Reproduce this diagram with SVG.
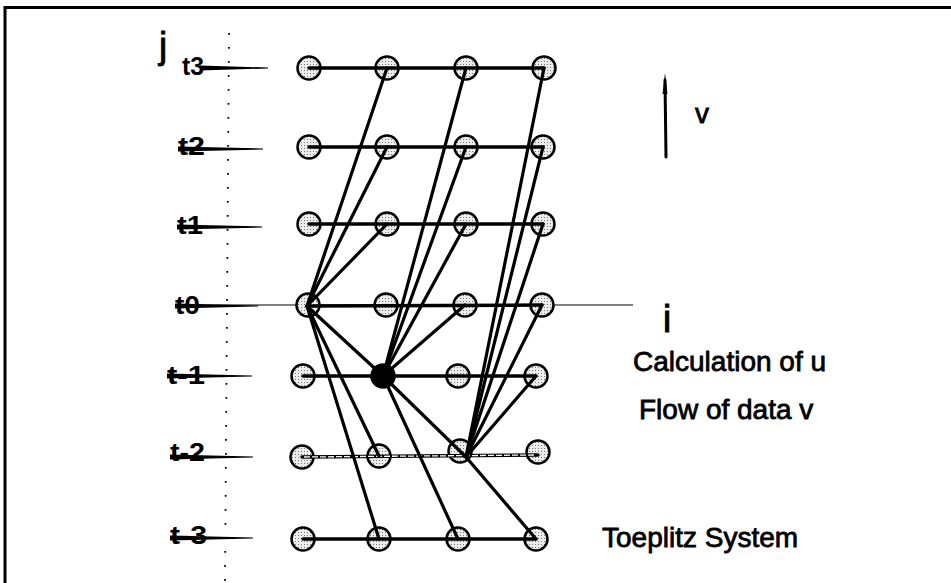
<svg xmlns="http://www.w3.org/2000/svg" width="951" height="583" viewBox="0 0 951 583">
<defs>
<pattern id="dots" width="3" height="3" patternUnits="userSpaceOnUse">
<rect width="3" height="3" fill="#ececec"/>
<rect x="1" y="1" width="1" height="1" fill="#777"/>
</pattern>
<style>
.node{fill:url(#dots);stroke:#000;stroke-width:2.5}
.hub{fill:#000;stroke:#000;stroke-width:2.5}
.edge{stroke:#000;stroke-width:3.2;fill:none;stroke-linecap:round}
.row{stroke:#000;stroke-width:3.5;fill:none;stroke-linecap:round}
.lbl{font-family:"Liberation Sans",Arial,sans-serif;font-weight:bold;font-size:25px;fill:#000}
.txt{font-family:"Liberation Sans",Arial,sans-serif;font-size:28px;fill:#000;stroke:#000;stroke-width:0.8}
.tick{fill:#000}
</style>
</defs>
<rect width="951" height="583" fill="#fff"/>
<!-- frame -->
<g id="frame">
<line x1="4" y1="7.5" x2="951" y2="7.5" stroke="#000" stroke-width="3"/>
<line x1="5" y1="6" x2="5" y2="583" stroke="#000" stroke-width="3"/>
</g>
<!-- dotted axis -->
<line x1="229" y1="33" x2="225" y2="583" stroke="#000" stroke-width="1.8" stroke-dasharray="1.8 12.2"/>
<!-- thin i axis -->
<line x1="175" y1="305" x2="633" y2="305" stroke="#000" stroke-width="1.2"/>
<!-- labels -->
<g id="labels">
<text class="txt" x="159" y="58" style="font-size:37px">j</text>
<text class="lbl" x="182" y="75" textLength="22" lengthAdjust="spacingAndGlyphs">t3</text>
<polygon class="tick" points="200,65.5 268,67.5 268,68.5 200,70.5"/>
<text class="lbl" x="178" y="155" textLength="27" lengthAdjust="spacingAndGlyphs">t2</text>
<polygon class="tick" points="178,146.5 263,148.5 263,149.5 178,151.5"/>
<text class="lbl" x="177" y="234" textLength="26" lengthAdjust="spacingAndGlyphs">t1</text>
<polygon class="tick" points="177,224.5 262,226.5 262,227.5 177,229.5"/>
<text class="lbl" x="175" y="314" textLength="25" lengthAdjust="spacingAndGlyphs">t0</text>
<polygon class="tick" points="175,303.5 258,305.5 258,306.5 175,308.5"/>
<text class="lbl" x="167" y="384" textLength="38" lengthAdjust="spacingAndGlyphs">t-1</text>
<polygon class="tick" points="167,373.5 252,375.5 252,376.5 167,378.5"/>
<text class="lbl" x="170" y="461" textLength="35" lengthAdjust="spacingAndGlyphs">t-2</text>
<polygon class="tick" points="170,454.5 253,456.5 253,457.5 170,459.5"/>
<text class="lbl" x="170" y="544" textLength="37" lengthAdjust="spacingAndGlyphs">t-3</text>
<polygon class="tick" points="170,535.5 253,537.5 253,538.5 170,540.5"/>
<text class="txt" x="695" y="123">v</text>
<text class="txt" x="667" y="332" text-anchor="middle" style="font-size:39px">i</text>
<text class="txt" x="633" y="371">Calculation of u</text>
<text class="txt" x="639" y="419">Flow of data v</text>
<text class="txt" x="602" y="547">Toeplitz System</text>
</g>
<!-- v arrow -->
<g id="varrow">
<line x1="666" y1="157" x2="665" y2="80" stroke="#000" stroke-width="3" stroke-linecap="round"/>
<polygon points="662.5,94 665,73 667.5,94" fill="#000"/>
</g>
<!-- nodes -->
<g id="nodes">
<g id="n-t3-0"><circle class="node" cx="309" cy="68" r="11.5"/></g>
<g id="n-t3-1"><circle class="node" cx="387" cy="68" r="11.5"/></g>
<g id="n-t3-2"><circle class="node" cx="466" cy="68" r="11.5"/></g>
<g id="n-t3-3"><circle class="node" cx="544" cy="68" r="11.5"/></g>
<g id="n-t2-0"><circle class="node" cx="309" cy="147" r="11.5"/></g>
<g id="n-t2-1"><circle class="node" cx="387" cy="147" r="11.5"/></g>
<g id="n-t2-2"><circle class="node" cx="466" cy="147" r="11.5"/></g>
<g id="n-t2-3"><circle class="node" cx="543" cy="147" r="11.5"/></g>
<g id="n-t1-0"><circle class="node" cx="309" cy="224" r="11.5"/></g>
<g id="n-t1-1"><circle class="node" cx="387" cy="224" r="11.5"/></g>
<g id="n-t1-2"><circle class="node" cx="466" cy="224" r="11.5"/></g>
<g id="n-t1-3"><circle class="node" cx="543" cy="224" r="11.5"/></g>
<g id="n-t0-0"><circle class="node" cx="308" cy="305" r="11.5"/></g>
<g id="n-t0-1"><circle class="node" cx="386" cy="305" r="11.5"/></g>
<g id="n-t0-2"><circle class="node" cx="465" cy="305" r="11.5"/></g>
<g id="n-t0-3"><circle class="node" cx="542" cy="305" r="11.5"/></g>
<g id="n-tm1-0"><circle class="node" cx="303" cy="376" r="11.5"/></g>
<g id="n-tm1-1"><circle class="hub" cx="383" cy="376" r="11.5"/></g>
<g id="n-tm1-2"><circle class="node" cx="458" cy="376" r="11.5"/></g>
<g id="n-tm1-3"><circle class="node" cx="536" cy="376" r="11.5"/></g>
<g id="n-tm2-0"><circle class="node" cx="302" cy="457" r="11.5"/></g>
<g id="n-tm2-1"><circle class="node" cx="379" cy="456" r="11.5"/></g>
<g id="n-tm2-2"><circle class="node" cx="460" cy="451" r="11.5"/></g>
<g id="n-tm2-3"><circle class="node" cx="538" cy="452" r="11.5"/></g>
<g id="n-tm3-0"><circle class="node" cx="303" cy="539" r="11.5"/></g>
<g id="n-tm3-1"><circle class="node" cx="379" cy="539" r="11.5"/></g>
<g id="n-tm3-2"><circle class="node" cx="458" cy="539" r="11.5"/></g>
<g id="n-tm3-3"><circle class="node" cx="536" cy="539" r="11.5"/></g>
</g>
<!-- connectors -->
<g id="connectors">
<line class="row" x1="309" y1="68" x2="544" y2="68"/>
<line class="row" x1="309" y1="147" x2="543" y2="147"/>
<line class="row" x1="309" y1="224" x2="543" y2="224"/>
<line class="row" x1="308" y1="306" x2="542" y2="305"/>
<line class="row" x1="303" y1="376" x2="536" y2="376"/>
<line class="row" x1="302" y1="457" x2="538" y2="455" stroke-width="4"/>
<line x1="304" y1="457" x2="536" y2="455" stroke="#fff" stroke-width="1.3" stroke-dasharray="6 2"/>
<line class="row" x1="303" y1="539" x2="536" y2="539"/>
<line class="edge" x1="387" y1="68" x2="307" y2="306"/>
<line class="edge" x1="387" y1="147" x2="307" y2="306"/>
<line class="edge" x1="387" y1="224" x2="307" y2="306"/>
<line class="edge" x1="466" y1="68" x2="383" y2="376"/>
<line class="edge" x1="466" y1="147" x2="383" y2="376"/>
<line class="edge" x1="466" y1="224" x2="383" y2="376"/>
<line class="edge" x1="465" y1="305" x2="383" y2="376"/>
<line class="edge" x1="307" y1="306" x2="383" y2="376"/>
<line class="edge" x1="544" y1="68" x2="466" y2="457"/>
<line class="edge" x1="543" y1="147" x2="466" y2="457"/>
<line class="edge" x1="543" y1="224" x2="466" y2="457"/>
<line class="edge" x1="542" y1="305" x2="466" y2="457"/>
<line class="edge" x1="536" y1="376" x2="466" y2="457"/>
<line class="edge" x1="383" y1="376" x2="466" y2="457"/>
<line class="edge" x1="307" y1="306" x2="379" y2="456"/>
<line class="edge" x1="307" y1="306" x2="379" y2="539"/>
<line class="edge" x1="383" y1="376" x2="458" y2="539"/>
<line class="edge" x1="466" y1="457" x2="536" y2="539"/>
</g>
</svg>
